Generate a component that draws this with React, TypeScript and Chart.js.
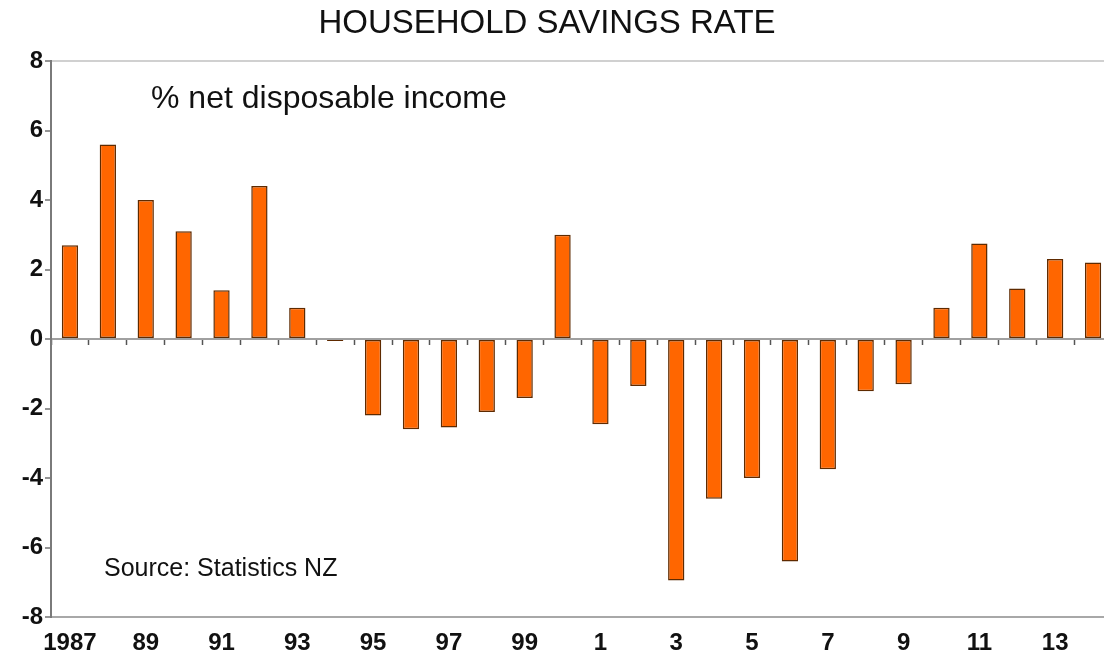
import { useEffect, useRef } from "react";
import { Chart, registerables } from "chart.js";

Chart.register(...registerables);

const years: string[] = [
  "1987", "1988", "1989", "1990", "1991", "1992", "1993", "1994", "1995", "1996",
  "1997", "1998", "1999", "2000", "2001", "2002", "2003", "2004", "2005", "2006",
  "2007", "2008", "2009", "2010", "2011", "2012", "2013", "2014",
];

const savingsRate: number[] = [
  2.7, 5.6, 4.0, 3.1, 1.4, 4.4, 0.9, -0.06, -2.2, -2.6,
  -2.55, -2.1, -1.7, 3.0, -2.45, -1.35, -6.95, -4.6, -4.0, -6.4,
  -3.75, -1.5, -1.3, 0.9, 2.75, 1.45, 2.3, 2.2,
];

const yearTickLabels: string[] = [
  "1987", "", "89", "", "91", "", "93", "", "95", "",
  "97", "", "99", "", "1", "", "3", "", "5", "",
  "7", "", "9", "", "11", "", "13", "",
];

const chartTitle = "HOUSEHOLD SAVINGS RATE";
const unitNote = "% net disposable income";
const sourceNote = "Source: Statistics NZ";

const FONT = "'Liberation Sans', Arial, sans-serif";

const textPlugin = {
  id: "textNotes",
  afterDraw(chart: any) {
    const ctx = chart.ctx;
    ctx.save();
    ctx.fillStyle = "#111";
    ctx.textBaseline = "middle";
    ctx.font = `normal 33px ${FONT}`;
    ctx.textAlign = "center";
    ctx.fillText(chartTitle, 547, 24);
    ctx.textAlign = "left";
    ctx.font = `normal 32px ${FONT}`;
    ctx.fillText(unitNote, 151, 99);
    ctx.font = `normal 25px ${FONT}`;
    ctx.fillText(sourceNote, 104, 569);
    ctx.restore();
  },
};

export default function App() {
  const canvasRef = useRef<HTMLCanvasElement | null>(null);

  useEffect(() => {
    const canvas = canvasRef.current;
    if (!canvas) return;
    const chart = new Chart(canvas, {
      type: "bar",
      data: {
        labels: years,
        datasets: [
          {
            label: "Household savings rate",
            data: savingsRate,
            backgroundColor: "#FF6600",
            borderColor: "#5e2a00",
            borderWidth: 1.5,
            borderSkipped: false,
            barPercentage: 0.43,
            categoryPercentage: 1,
          },
        ],
      },
      options: {
        responsive: false,
        animation: false,
        layout: { padding: { top: 61, left: 0, right: 0, bottom: 0 } },
        plugins: {
          legend: { display: false },
          tooltip: { enabled: false },
          title: { display: false },
        },
        scales: {
          x: {
            type: "category",
            offset: true,
            grid: { display: false, drawTicks: false, offset: true },
            border: { display: false },
            ticks: {
              autoSkip: false,
              maxRotation: 0,
              minRotation: 0,
              padding: 12,
              color: "#111",
              font: { family: FONT, size: 24, weight: "bold" },
              callback: (_v: any, i: number) => yearTickLabels[i],
            },
            afterFit: (s: any) => {
              s.height = 40;
            },
          },
          xz: {
            type: "category",
            axis: "x",
            position: { y: 0 },
            offset: true,
            grid: {
              display: true,
              offset: true,
              drawOnChartArea: false,
              drawTicks: true,
              tickLength: 6,
              tickColor: "#555",
              tickWidth: 1.5,
            },
            border: { display: false },
            ticks: { display: false, autoSkip: false },
          },
          y: {
            min: -8,
            max: 8,
            ticks: {
              stepSize: 2,
              padding: 2,
              color: "#111",
              font: { family: FONT, size: 24, weight: "bold" },
            },
            grid: {
              color: (c: any) => {
                const v = c.tick ? c.tick.value : null;
                if (v === 8) return "#d0d0d0";
                if (v === -8) return "#a8a8a8";
                if (v === 0) return "#a0a0a0";
                return "rgba(0,0,0,0)";
              },
              lineWidth: 2,
              drawTicks: true,
              tickLength: 6,
              tickColor: "#707070",
              tickWidth: 1.5,
            },
            border: { display: true, color: "#7a7a7a", width: 2 },
            afterFit: (s: any) => {
              s.width = 51;
            },
          },
        },
      },
      plugins: [textPlugin],
    });
    return () => chart.destroy();
  }, []);

  return (
    <div
      style={{
        position: "absolute",
        left: 0,
        top: 0,
        width: 1104,
        height: 657,
        overflow: "hidden",
        background: "#fff",
      }}
    >
      <canvas
        ref={canvasRef}
        width={1112}
        height={657}
        style={{ display: "block", width: 1112, height: 657 }}
      />
    </div>
  );
}
